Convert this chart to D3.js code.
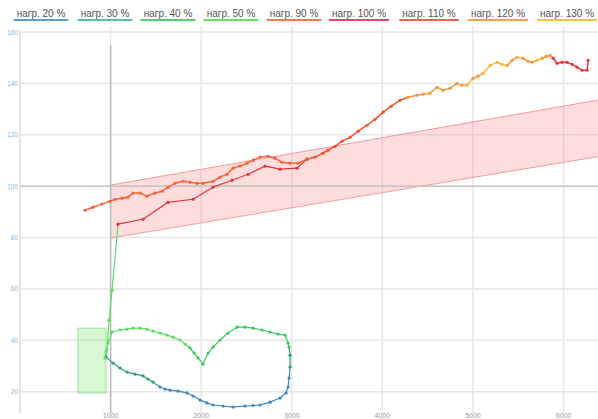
<!DOCTYPE html>
<html><head><meta charset="utf-8">
<script src="https://cdn.jsdelivr.net/npm/d3@7"></script>
<style>body{margin:0;background:#fff;font-family:"Liberation Sans",Arial,sans-serif}</style>
</head><body><svg id="c" width="598" height="419"></svg>
<script>
const legendLabels = ["нагр. 20 %","нагр. 30 %","нагр. 40 %","нагр. 50 %","нагр. 90 %","нагр. 100 %","нагр. 110 %","нагр. 120 %","нагр. 130 %"];
const legendLoads = [20,30,40,50,90,100,110,120,130];
const legendColors = ["#5b9fd0","#4fc39a","#4fd06c","#6be05a","#f2784e","#e84560","#f2604a","#f5a24a","#f8c23c"];
const markColors = {20:"#3b88bf",30:"#2c9e80",40:"#3cc85e",50:"#5bdc62",90:"#f2643a",100:"#e2343e",110:"#f3522e",120:"#f7963a",130:"#f8b63a"};
const xTicks = [1000,2000,3000,4000,5000,6000];
const yTicks = [20,40,60,80,100,120,140,160];

// lower loop + riser + lower red branch (one run)
const runAX = [949,1027,1104,1181,1270,1358,1413,1468,1546,1601,1656,1744,1844,1910,1987,2064,2131,2241,2352,2484,2572,2650,2760,2870,2937,2959,2970,2981,2981,2970,2959,2926,2848,2760,2672,2572,2484,2396,2296,2208,2131,2076,2020,1965,1921,1877,1822,1766,1689,1623,1546,1468,1402,1325,1248,1181,1104,1016,972,949,938,960,983,1016,1082,1358,1634,1910,2131,2341,2517,2705,2870,3058,3168];
const runAY = [33.5,31.1,29.2,27.6,26.8,26.1,24.9,23.7,21.8,21.0,20.6,20.2,19.5,18.3,16.7,15.6,14.8,14.4,14.0,14.4,14.6,14.8,15.9,17.5,19.5,21.8,25.3,29.6,34.2,37.3,38.9,42.0,42.4,43.2,44.0,44.7,45.1,45.1,42.8,40.1,37.3,35.0,30.7,33.1,35.0,37.0,38.5,40.1,41.2,42.0,42.8,43.6,44.3,44.7,44.7,44.3,44.0,43.2,38.9,35.4,33.1,36.2,47.8,59.5,85.2,87.1,93.7,94.9,99.6,102.3,104.6,107.8,106.6,107.0,110.5];
const runALoad = [30,30,30,30,30,30,30,30,20,20,20,20,20,20,20,20,20,20,20,20,20,20,20,20,20,20,20,30,30,40,40,40,40,40,40,40,40,40,40,40,40,40,40,40,40,40,50,50,50,50,50,50,50,50,50,50,50,50,50,50,50,50,50,50,100,100,100,100,100,100,100,100,100,100,100];

// upper red/orange run
const runBX = [718,806,905,994,1049,1126,1192,1248,1325,1402,1490,1568,1634,1711,1800,1877,1954,2020,2131,2208,2285,2352,2429,2506,2572,2650,2738,2815,2892,2981,3069,3168,3257,3345,3400,3478,3555,3643,3732,3831,3919,4008,4096,4195,4283,4383,4449,4526,4604,4670,4747,4824,4880,4935,5001,5056,5112,5189,5266,5321,5377,5432,5487,5553,5608,5653,5708,5763,5807,5851,5884,5929,5984,6039,6094,6149,6204,6260,6271];
const runBY = [90.6,91.8,93.0,94.1,94.9,95.3,95.7,97.3,97.3,96.1,97.3,98.0,99.6,101.1,101.9,101.5,101.1,101.1,101.9,103.5,104.6,107.0,107.8,108.9,110.1,111.3,111.6,110.9,109.3,108.9,108.9,110.5,111.3,112.8,114.0,115.5,117.5,119.0,121.4,123.7,126.0,128.8,131.1,133.4,134.6,135.4,135.8,136.2,138.5,137.3,138.1,140.0,139.3,139.3,142.0,142.8,143.9,147.0,148.2,147.4,147.0,149.0,150.2,149.8,148.6,148.2,149.0,149.8,150.5,150.9,149.8,147.8,148.2,148.2,147.4,146.3,145.1,145.1,149.0];
const runBLoad = [90,90,90,90,90,90,90,90,90,90,90,90,90,90,90,90,90,90,90,90,90,90,90,90,90,90,90,90,90,90,90,110,110,110,110,110,110,110,110,110,110,110,110,110,120,120,120,120,120,120,120,120,120,130,120,120,130,130,130,130,120,120,130,120,120,120,130,120,120,120,100,100,100,100,100,100,100,100,100];

const bandX = [1000, 6400];
const bandLow = [79.8, 111.6];
const bandHigh = [100.4, 133.6];
const rectX = [640, 950];
const rectY = [19.5, 44.7];
const crossX = 1000, crossY = 100;

const svg = d3.select("#c");
const x = d3.scaleLinear().domain([0, 6380]).range([20, 598]);
const y = d3.scaleLinear().domain([0, 160]).range([443, 32]);
const plotTop = 26, plotBottom = 413;

// grid
svg.append("g").selectAll("line").data(yTicks).join("line")
  .attr("x1", 20).attr("x2", 598).attr("y1", d => y(d)).attr("y2", d => y(d))
  .attr("stroke", "#e6e6e6").attr("stroke-width", 1.5);
svg.append("g").selectAll("line").data(xTicks).join("line")
  .attr("y1", plotTop).attr("y2", plotBottom).attr("x1", d => x(d)).attr("x2", d => x(d))
  .attr("stroke", "#e6e6e6").attr("stroke-width", 1.5);
svg.append("line").attr("x1", x(0)).attr("x2", x(0)).attr("y1", 30).attr("y2", plotBottom)
  .attr("stroke", "#dcdcdc").attr("stroke-width", 1.5);

// band
const bandData = bandX.map((v, i) => ({x: v, lo: bandLow[i], hi: bandHigh[i]}));
svg.append("path").datum(bandData)
  .attr("d", d3.area().x(d => x(d.x)).y0(d => y(d.lo)).y1(d => y(d.hi)))
  .attr("fill", "rgba(255,120,120,0.25)").attr("stroke", "none");
svg.append("path").datum(bandData).attr("d", d3.line().x(d => x(d.x)).y(d => y(d.lo)))
  .attr("fill", "none").attr("stroke", "#f59a9a").attr("stroke-width", 1);
svg.append("path").datum(bandData).attr("d", d3.line().x(d => x(d.x)).y(d => y(d.hi)))
  .attr("fill", "none").attr("stroke", "#f59a9a").attr("stroke-width", 1);

// crosshair
svg.append("line").attr("x1", 20).attr("x2", 598).attr("y1", y(crossY)).attr("y2", y(crossY))
  .attr("stroke", "#c4c4c4").attr("stroke-width", 1.5);
svg.append("line").attr("x1", x(crossX)).attr("x2", x(crossX)).attr("y1", 45).attr("y2", plotBottom)
  .attr("stroke", "#bdbdbd").attr("stroke-width", 1.5);

// green rect
svg.append("rect").attr("x", x(rectX[0])).attr("y", y(rectY[1]))
  .attr("width", x(rectX[1]) - x(rectX[0])).attr("height", y(rectY[0]) - y(rectY[1]))
  .attr("fill", "rgba(140,235,130,0.35)").attr("stroke", "#9be39a").attr("stroke-width", 1);

function drawRun(xs, ys, loads, w) {
  const pts = xs.map((v, i) => ({x: v, y: ys[i], l: loads[i]}));
  const g = svg.append("g");
  g.selectAll("line").data(pts.slice(1)).join("line")
    .attr("x1", (d, i) => x(pts[i].x)).attr("y1", (d, i) => y(pts[i].y))
    .attr("x2", d => x(d.x)).attr("y2", d => y(d.y))
    .attr("stroke", (d, i) => markColors[pts[i].l]).attr("stroke-width", w).attr("stroke-linecap", "round");
  g.selectAll("circle").data(pts).join("circle")
    .attr("cx", d => x(d.x)).attr("cy", d => y(d.y)).attr("r", 1.6)
    .attr("fill", d => markColors[d.l]);
}
drawRun(runAX, runAY, runALoad, 1.2);
drawRun(runBX, runBY, runBLoad, 1.5);

// axes labels
svg.append("g").selectAll("text").data(yTicks).join("text")
  .attr("x", 18).attr("y", d => y(d) + 2.5).attr("text-anchor", "end")
  .attr("font-size", 6.5).attr("fill", "#8ab6da").text(d => d);
svg.append("g").selectAll("text").data(xTicks).join("text")
  .attr("x", d => x(d)).attr("y", 418).attr("text-anchor", "middle")
  .attr("font-size", 7).attr("fill", "#999").text(d => d);

// legend
const legendCenters = [41,105,168,231,294,359,429,498,567];
const lg = svg.append("g").selectAll("g").data(legendLabels).join("g")
  .attr("transform", (d, i) => `translate(${legendCenters[i]},0)`);
lg.append("text").attr("y", 17).attr("text-anchor", "middle").attr("font-size", 10)
  .attr("fill", "#555").text(d => d);
lg.each(function(d, i) {
  const t = d3.select(this).select("text").node().getComputedTextLength();
  d3.select(this).append("line").attr("x1", -t/2 - 3).attr("x2", t/2 + 3)
    .attr("y1", 20).attr("y2", 20).attr("stroke", legendColors[i]).attr("stroke-width", 2);
});
</script></body></html>
